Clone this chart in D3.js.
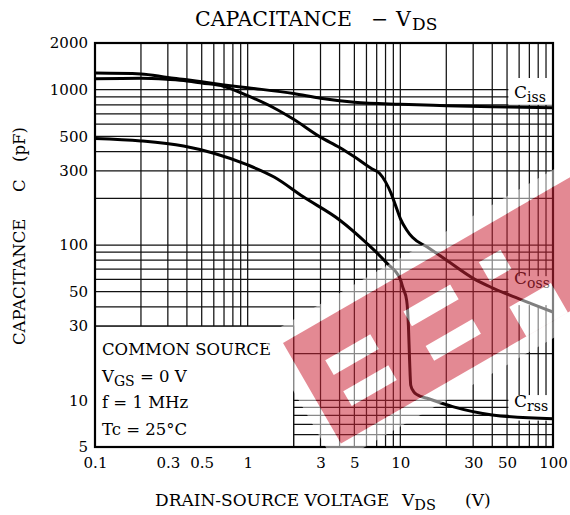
<!DOCTYPE html>
<html>
<head>
<meta charset="utf-8">
<script src="https://cdn.jsdelivr.net/npm/d3@7"></script>
<style>
body { margin: 0; background: #fff; }
text { font-family: "DejaVu Serif", serif; fill: #000; }
</style>
</head>
<body>
<svg id="chart" width="570" height="515"></svg>
<script>
// values (VDS in V, C in pF)
var cissV = [0.1, 0.2, 0.3, 0.4, 0.5, 0.7, 1, 2, 3, 5, 10, 20, 50, 100];
var cissC = [1280, 1265, 1200, 1160, 1125, 1075, 1030, 945, 880, 830, 805, 790, 775, 765];

var cossV = [0.1, 0.2, 0.3, 0.4, 0.5, 0.7, 1, 1.5, 2, 3, 4, 5, 6.5, 7.3, 8, 8.7, 9.3, 10, 11, 12, 15, 20, 30, 40, 60, 100];
var cossC = [1175, 1185, 1165, 1140, 1105, 1050, 915, 760, 645, 495, 425, 370, 310, 290, 255, 215, 180, 148, 125, 112, 97, 80, 61, 53, 45, 37];

var crssV = [0.1, 0.2, 0.38, 0.6, 1, 1.5, 2.3, 4, 6, 8.2, 10, 10.4, 11, 11.3, 11.5, 11.7, 12.2, 13, 15, 22, 40, 100];
var crssC = [485, 468, 434, 390, 328, 273, 205, 145, 103, 76, 60, 53, 44, 30, 18, 12.5, 11.4, 10.8, 10.3, 9.1, 8.05, 7.6];

var xTicks = [0.1, 0.3, 0.5, 1, 3, 5, 10, 30, 50, 100];
var yTicks = [5, 10, 30, 50, 100, 300, 500, 1000, 2000];

var xGrid = [0.2, 0.3, 0.4, 0.5, 0.6, 0.7, 0.8, 0.9, 1, 2, 3, 4, 5, 6, 7, 8, 9, 10, 20, 30, 40, 50, 60, 70, 80, 90];
var yGrid = [6, 7, 8, 9, 10, 20, 50, 60, 70, 80, 90, 100, 200, 300, 400, 500, 600, 700, 800, 900, 1000];
// these two only run part of the way across
var yGridShort = [30, 40];
var yGridShortEnd = [2, 3];

var conditions = ["COMMON SOURCE", "V|GS| = 0 V", "f = 1 MHz", "Tc = 25°C"];

var svg = d3.select("#chart");

var x = d3.scaleLog().domain([0.1, 100]).range([95, 553]);
var y = d3.scaleLog().domain([5, 2000]).range([447, 43]);

//GRID
var grid = svg.append("g").attr("stroke", "#111").attr("stroke-width", 1.25);

grid.selectAll(".vgrid").data(xGrid).enter()
	.append("line")
	.attr("x1", function(d) { return x(d); })
	.attr("x2", function(d) { return x(d); })
	.attr("y1", y(2000))
	.attr("y2", y(5));

grid.selectAll(".hgrid").data(yGrid).enter()
	.append("line")
	.attr("x1", x(0.1))
	.attr("x2", x(100))
	.attr("y1", function(d) { return y(d); })
	.attr("y2", function(d) { return y(d); });

grid.selectAll(".hshort").data(yGridShort).enter()
	.append("line")
	.attr("x1", x(0.1))
	.attr("x2", function(d, i) { return x(yGridShortEnd[i]); })
	.attr("y1", function(d) { return y(d); })
	.attr("y2", function(d) { return y(d); });

//white patches behind the curve names
function patch(v0, v1, c0, c1) {
	svg.append("rect")
		.attr("x", x(v0)).attr("y", y(c1))
		.attr("width", x(v1) - x(v0)).attr("height", y(c0) - y(c1))
		.attr("fill", "#fff");
}
patch(51, 100, 800, 1190);
patch(51, 100, 41, 63);
patch(51, 100, 7.4, 10.8);

//condition box
svg.append("rect")
	.attr("x", x(0.1)).attr("y", y(30))
	.attr("width", x(2) - x(0.1)).attr("height", y(5) - y(30))
	.attr("fill", "#fff")
	.attr("stroke", "#111")
	.attr("stroke-width", 1.25);

//CURVES
var line = d3.line()
	.x(function(d) { return x(d[0]); })
	.y(function(d) { return y(d[1]); })
	.curve(d3.curveMonotoneX);

function plotcurve(vs, cs) {
	svg.append("path")
		.datum(d3.zip(vs, cs))
		.attr("d", line)
		.attr("fill", "none")
		.attr("stroke", "#000")
		.attr("stroke-width", 3)
		.attr("stroke-linejoin", "round");
}
plotcurve(cissV, cissC);
plotcurve(cossV, cossC);
plotcurve(crssV, crssC);

//curve names
function curvelabel(sub, px, py) {
	var t = svg.append("text").attr("x", px).attr("y", py).style("font-size", "17px");
	t.append("tspan").text("C");
	t.append("tspan").attr("dy", 4).style("font-size", "14px").text(sub);
}
curvelabel("iss", 514, 98);
curvelabel("oss", 514, 284);
curvelabel("rss", 514, 407);

//conditions text
conditions.forEach(function(s, i) {
	var t = svg.append("text").attr("x", 102).attr("y", 355 + i * 26.7).style("font-size", "16.5px");
	var parts = s.split("|");
	t.append("tspan").text(parts[0]);
	if (parts.length > 1) {
		t.append("tspan").attr("dy", 4).style("font-size", "14px").text(parts[1]);
		t.append("tspan").attr("dy", -4).text(parts[2]);
	}
});

//FRAME
svg.append("rect")
	.attr("x", x(0.1)).attr("y", y(2000))
	.attr("width", x(100) - x(0.1)).attr("height", y(5) - y(2000))
	.attr("fill", "none")
	.attr("stroke", "#000")
	.attr("stroke-width", 2.2);

//watermark stamp sitting on top of the plot
function watermark() {
	var W = 360, H = 116, pad = 15;
	var slots = [[28, 36, 52, 17], [28, 72, 52, 17], [120, 33, 54, 17], [122, 74, 54, 17], [210, 28, 25, 22], [214, 82, 48, 34]];
	var g = svg.append("g").attr("transform", "translate(283,343) rotate(-30)");
	var rectPath = function(a, b, w, h) { return "M" + a + "," + b + "h" + w + "v" + h + "h" + (-w) + "Z"; };
	g.append("path")
		.attr("d", rectPath(-pad, -pad, W + 2 * pad, H + 2 * pad) + rectPath(0, 0, W, H))
		.attr("fill-rule", "evenodd")
		.attr("fill", "#fff")
		.attr("fill-opacity", 0.5);
	g.selectAll(".slot").data(slots).enter()
		.append("rect")
		.attr("x", function(d) { return d[0]; })
		.attr("y", function(d) { return d[1]; })
		.attr("width", function(d) { return d[2]; })
		.attr("height", function(d) { return d[3]; })
		.attr("fill", "#fff")
		.attr("fill-opacity", 0.5);
	g.append("path")
		.attr("d", rectPath(0, 0, W, H) + slots.map(function(d) { return rectPath(d[0], d[1], d[2], d[3]); }).join(""))
		.attr("fill-rule", "evenodd")
		.attr("fill", "rgb(204,37,55)")
		.attr("fill-opacity", 0.54);
}
watermark();

//AXES (tick labels only, the frame is drawn above)
var xAxis = d3.axisBottom(x).tickValues(xTicks).tickSize(0).tickPadding(0)
	.tickFormat(function(d) { return d; });
svg.append("g")
	.attr("transform", "translate(0,468)")
	.call(xAxis)
	.call(function(g) { g.select(".domain").remove(); })
	.selectAll("text")
	.attr("dy", 0)
	.style("font-size", "15px")
	.style("font-family", "DejaVu Serif");

var yAxis = d3.axisLeft(y).tickValues(yTicks).tickSize(0).tickPadding(0)
	.tickFormat(function(d) { return d; });
svg.append("g")
	.attr("transform", "translate(88,0)")
	.call(yAxis)
	.call(function(g) { g.select(".domain").remove(); })
	.selectAll("text")
	.style("font-size", "15px")
	.style("font-family", "DejaVu Serif");

//titles
var title = svg.append("text").attr("x", 195).attr("y", 26).style("font-size", "20.5px");
title.append("tspan").text("CAPACITANCE");
title.append("tspan").attr("x", 371).text("−");
title.append("tspan").attr("x", 396).text("V");
title.append("tspan").attr("x", 412).attr("dy", 4).style("font-size", "17px").text("DS");

var xt = svg.append("text").attr("x", 155).attr("y", 506).style("font-size", "17px");
xt.append("tspan").text("DRAIN-SOURCE VOLTAGE");
xt.append("tspan").attr("x", 402).text("V");
xt.append("tspan").attr("dy", 4).style("font-size", "14.5px").text("DS");
xt.append("tspan").attr("x", 465).attr("dy", -4).text("(V)");

[["CAPACITANCE", 345], ["C", 192], ["(pF)", 162]].forEach(function(p) {
	svg.append("text")
		.attr("transform", "translate(25," + p[1] + ") rotate(-90)")
		.style("font-size", "16.5px")
		.text(p[0]);
});
</script>
</body>
</html>
